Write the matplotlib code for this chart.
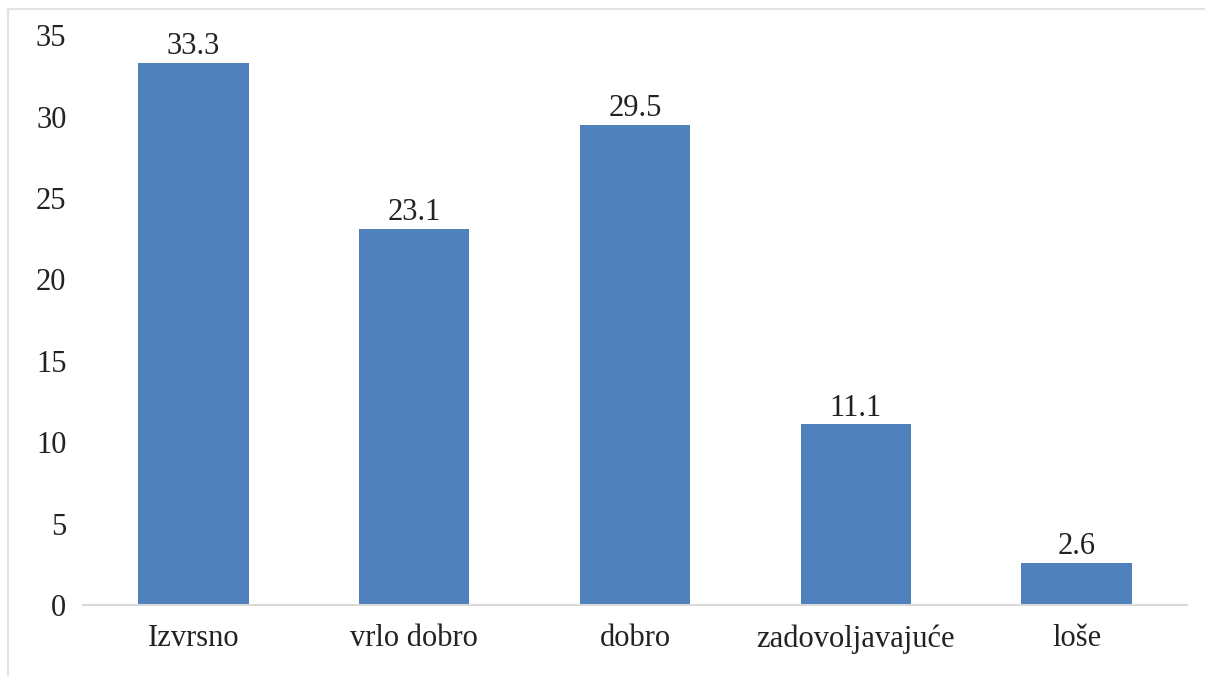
import matplotlib.pyplot as plt
from matplotlib.lines import Line2D

categories = ['Izvrsno', 'vrlo dobro', 'dobro', 'zadovoljavajuće', 'loše']
values = [33.3, 23.1, 29.5, 11.1, 2.6]
yticks = [0, 5, 10, 15, 20, 25, 30, 35]

plt.rcParams['font.family'] = ['Liberation Serif', 'DejaVu Serif']

fig = plt.figure(figsize=(12.05, 6.76), dpi=100)
ax = fig.add_axes([0.069, 0.105, 0.916, 0.843])

x = range(len(categories))
ax.bar(x, values, width=0.5, color='#4f81bd')
for xi, v in zip(x, values):
    ax.text(xi, v + 0.1, '{}'.format(v), ha='center', va='bottom', fontsize=22, color='#222222')

ax.set_xlim(-0.5, len(categories) - 0.5)
ax.set_ylim(0, 35)
ax.set_yticks(yticks)
ax.set_xticks(list(x))
ax.set_xticklabels(categories)
ax.tick_params(axis='both', length=0, labelsize=22, colors='#222222')
ax.tick_params(axis='y', pad=12)
ax.tick_params(axis='x', pad=14)

for s in ['top', 'right', 'left']:
    ax.spines[s].set_visible(False)
ax.spines['bottom'].set_color('#d9d9d9')
ax.spines['bottom'].set_linewidth(1.5)

# light frame of the original picture
fig.add_artist(Line2D([8 / 1205, 1], [1 - 9 / 676, 1 - 9 / 676], color='#e3e3e3', lw=1.5))
fig.add_artist(Line2D([8 / 1205, 8 / 1205], [0, 1 - 9 / 676], color='#e3e3e3', lw=1.5))

fig.savefig('out.png', dpi=100)
